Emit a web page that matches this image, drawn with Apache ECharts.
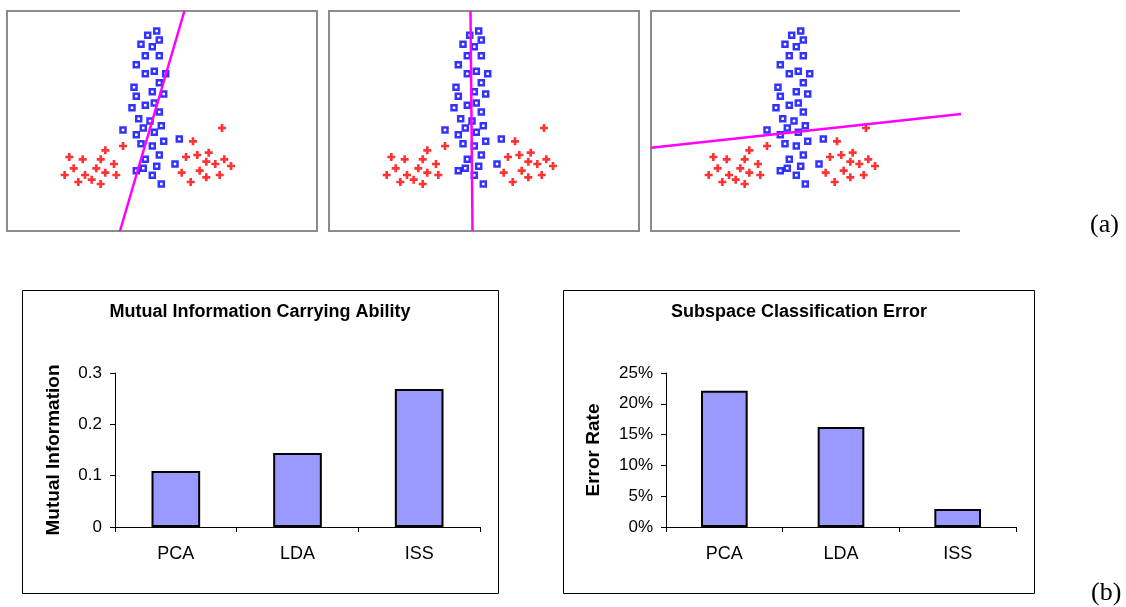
<!DOCTYPE html>
<html>
<head>
<meta charset="utf-8">
<script src="https://cdn.jsdelivr.net/npm/echarts@6/dist/echarts.min.js"></script>
<style>
html,body{margin:0;padding:0;background:#fff;}
#chart{width:1126px;height:607px;}
</style>
</head>
<body>
<div id="chart"></div>
<script>
// ---- Data (top panels: sample points in panel units, y up) ----
const bluePoints = [
  [149.7,200],[140.7,195.7],[152.3,191],[134,186.7],[145.3,184.3],[138.3,175.3],[152.3,175.3],
  [129.3,166.3],[138.3,157.3],[147.3,159.7],[158.7,157.3],[152.3,148.3],[127,143.7],[145.3,139.3],
  [156.7,137],[129.3,134.7],[125,123.3],[138.3,125.7],[147.3,128],[152.3,119],[131.7,112.3],
  [143,110],[154.3,105.3],[116,101],[136.3,103],[147.3,98.7],[129.3,96.3],[134,87.3],[145.3,85],
  [156.7,89.7],[172.3,92],[152.3,76],[138.3,71.7],[168,67],[149.7,64.7],[129.3,60.3],[136.3,62.7],
  [145.3,55.7],[154.3,47]
];
const redPoints = [
  [62.3,74],[75.7,71.7],[93.7,71.7],[98.3,80.7],[66.7,62.7],[89.3,62.7],[107,67],[57.7,56],
  [78,56],[98.3,58.3],[109.3,56],[71.3,49],[84.7,51.3],[93.7,47],[116,85],
  [186,89.7],[215,103],[179,74],[190.3,76],[201.7,78.3],[199.3,69.3],[208.3,67],[217.3,71.7],
  [224,65],[174.7,58.3],[192.7,60.3],[199.3,53.7],[212.7,56],[183.7,49]
];
// projection directions for the three panels (endpoints)
const lineA = [[113,0],[177.4,220]];
const lineB = [[143.5,0],[141.5,220]];
const lineC = [[0,83.3],[310,117]];

// ---- Data (bottom bar charts) ----
const methods = ['PCA','LDA','ISS'];
const mutualInfo = [0.109, 0.144, 0.269];
const errorRate = [0.221, 0.1625, 0.0293];
const panelLabels = ['(a)','(b)'];

const FONT = '"Liberation Sans", Arial, sans-serif';
const chart = echarts.init(document.getElementById('chart'), null, {renderer:'canvas'});

const panelLefts = [7, 329, 651];
const grids = panelLefts.map((l,i) => ({
  left: l, top: 11, width: 310, height: 220,
  show: i < 2, borderColor: '#8c8c8c', borderWidth: 2, backgroundColor: 'transparent'
}));
grids.push({left:115, top:373, width:365, height:154});
grids.push({left:666, top:373, width:350, height:154});

const xAxes = [], yAxes = [], series = [];
const lines = [lineA, lineB, lineC];
const crossPath = 'path://M3,0H6V3H9V6H6V9H3V6H0V3H3Z';
for (let i = 0; i < 3; i++) {
  xAxes.push({gridIndex:i, type:'value', min:0, max:310, show:false});
  yAxes.push({gridIndex:i, type:'value', min:0, max:220, show:false});
  series.push({
    type:'scatter', xAxisIndex:i, yAxisIndex:i, data:redPoints, symbol:crossPath, symbolSize:8,
    itemStyle:{color:'#ff0000'}, silent:true, z:3
  });
  series.push({
    type:'scatter', xAxisIndex:i, yAxisIndex:i, data:bluePoints, symbol:'rect', symbolSize:5,
    itemStyle:{color:'#ffffff', borderColor:'#0000ff', borderWidth:2.5}, silent:true, z:3
  });
  series.push({
    type:'line', xAxisIndex:i, yAxisIndex:i, data:lines[i], symbol:'none',
    lineStyle:{color:'#ff00ff', width:2.5}, silent:true, z:4, clip:true
  });
}

function barAxes(gi, max, interval, fmt, nameTxt, nameGap) {
  xAxes.push({
    gridIndex:gi, type:'category', data:methods, boundaryGap:true,
    axisLine:{show:true, lineStyle:{color:'#000', width:1}},
    axisTick:{show:true, inside:false, length:5, alignWithLabel:false, lineStyle:{color:'#000'}},
    axisLabel:{color:'#000', fontSize:18, fontFamily:FONT, margin:18}
  });
  yAxes.push({
    gridIndex:gi, type:'value', min:0, max:max, interval:interval,
    name:nameTxt, nameLocation:'middle', nameGap:nameGap, nameRotate:90,
    nameTextStyle:{color:'#000', fontSize:19, fontWeight:'bold', fontFamily:FONT},
    axisLine:{show:true, lineStyle:{color:'#000', width:1}},
    axisTick:{show:true, inside:false, length:5, lineStyle:{color:'#000'}},
    axisLabel:{color:'#000', fontSize:17, fontFamily:FONT, margin:13, formatter:fmt},
    splitLine:{show:false}
  });
}
barAxes(3, 0.3, 0.1, v => (Math.round(v*10)/10).toString(), 'Mutual Information', 52);
barAxes(4, 0.25, 0.05, v => Math.round(v*100) + '%', 'Error Rate', 63);

series.push({
  type:'bar', xAxisIndex:3, yAxisIndex:3, data:mutualInfo, barWidth:'40%',
  itemStyle:{color:'#9999ff', borderColor:'#000', borderWidth:2}, silent:true
});
series.push({
  type:'bar', xAxisIndex:4, yAxisIndex:4, data:errorRate, barWidth:'40%',
  itemStyle:{color:'#9999ff', borderColor:'#000', borderWidth:2}, silent:true
});

const graphic = [
  {type:'polyline', shape:{points:[[960,11],[651,11],[651,231],[960,231]]},
   style:{stroke:'#8c8c8c', lineWidth:2, fill:null}, silent:true},
  {type:'rect', shape:{x:22.5, y:290.5, width:476, height:303},
   style:{stroke:'#000', lineWidth:1, fill:null}, silent:true},
  {type:'rect', shape:{x:563.5, y:290.5, width:471, height:303},
   style:{stroke:'#000', lineWidth:1, fill:null}, silent:true},
  {type:'text', x:260, y:303, style:{text:'Mutual Information Carrying Ability', textAlign:'center',
   textVerticalAlign:'top', font:'bold 18px ' + FONT, fill:'#000'}, silent:true},
  {type:'text', x:799, y:303, style:{text:'Subspace Classification Error', textAlign:'center',
   textVerticalAlign:'top', font:'bold 18px ' + FONT, fill:'#000'}, silent:true},
  {type:'text', x:1090, y:212, style:{text:panelLabels[0], textAlign:'left',
   textVerticalAlign:'top', font:'26px "Liberation Serif", "Times New Roman", serif', fill:'#000'}, silent:true},
  {type:'text', x:1091, y:580, style:{text:panelLabels[1], textAlign:'left',
   textVerticalAlign:'top', font:'26px "Liberation Serif", "Times New Roman", serif', fill:'#000'}, silent:true}
];

chart.setOption({
  animation:false,
  backgroundColor:'#ffffff',
  textStyle:{fontFamily:FONT},
  grid:grids, xAxis:xAxes, yAxis:yAxes, series:series, graphic:graphic
});
</script>
</body>
</html>
